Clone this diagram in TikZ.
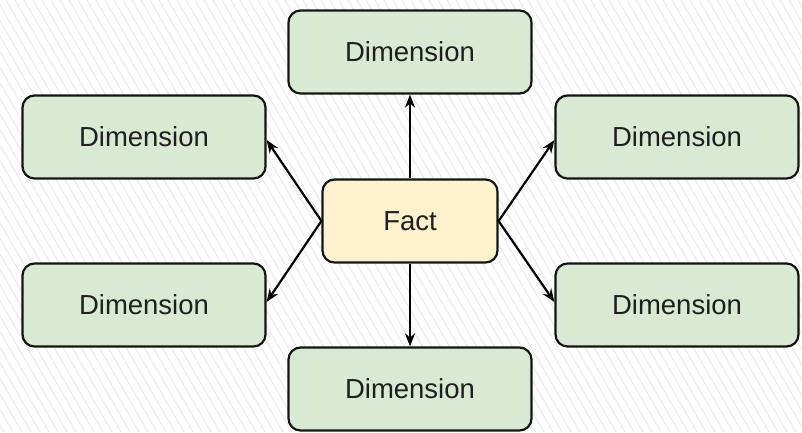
\documentclass[tikz,border=0pt]{standalone}
\usepackage{fontspec}
\setmainfont{Liberation Sans}
\usetikzlibrary{arrows.meta}
\definecolor{dimfill}{HTML}{D9EAD3}
\definecolor{factfill}{HTML}{FFF2CC}
\definecolor{edge}{HTML}{141414}
\tikzset{
  box/.style={draw=edge, line width=2.2pt, rounded corners=12pt, minimum width=243pt, minimum height=83pt, inner sep=0pt, font=\fontsize{27.5}{32}\selectfont, text=black!88},
  dim/.style={box, fill=dimfill},
  fct/.style={box, fill=factfill, minimum width=175pt},
  conn/.style={-{Stealth[length=13pt,width=10pt]}, line width=2.2pt, draw=black},
  stripe/.style={draw=black!7, line width=1.2pt}
}
\begin{document}
\begin{tikzpicture}[x=1pt,y=-1pt]
\useasboundingbox (0,0) rectangle (802,432);
\fill[white] (0,0) rectangle (802,432);
\begin{scope}
\clip (0,0) rectangle (802,432);
\foreach \i in {-300,-291,...,810} {
  \draw[stripe] (\i,0) -- (\i+250,432);
}
\end{scope}
\node[fct] (fact) at (410,221) {Fact};
\node[dim] (top) at (410,52) {Dimension};
\node[dim] (bot) at (410,389) {Dimension};
\node[dim] (lu) at (144,137) {Dimension};
\node[dim] (ll) at (144,305) {Dimension};
\node[dim] (ru) at (677,137) {Dimension};
\node[dim] (rl) at (677,305) {Dimension};
\draw[conn] (fact.north) -- (top.south);
\draw[conn] (fact.south) -- (bot.north);
\draw[conn] (fact.west) -- ([yshift=-3pt]lu.east);
\draw[conn] (fact.west) -- ([yshift=3pt]ll.east);
\draw[conn] (fact.east) -- ([yshift=-3pt]ru.west);
\draw[conn] (fact.east) -- ([yshift=3pt]rl.west);
\end{tikzpicture}
\end{document}
